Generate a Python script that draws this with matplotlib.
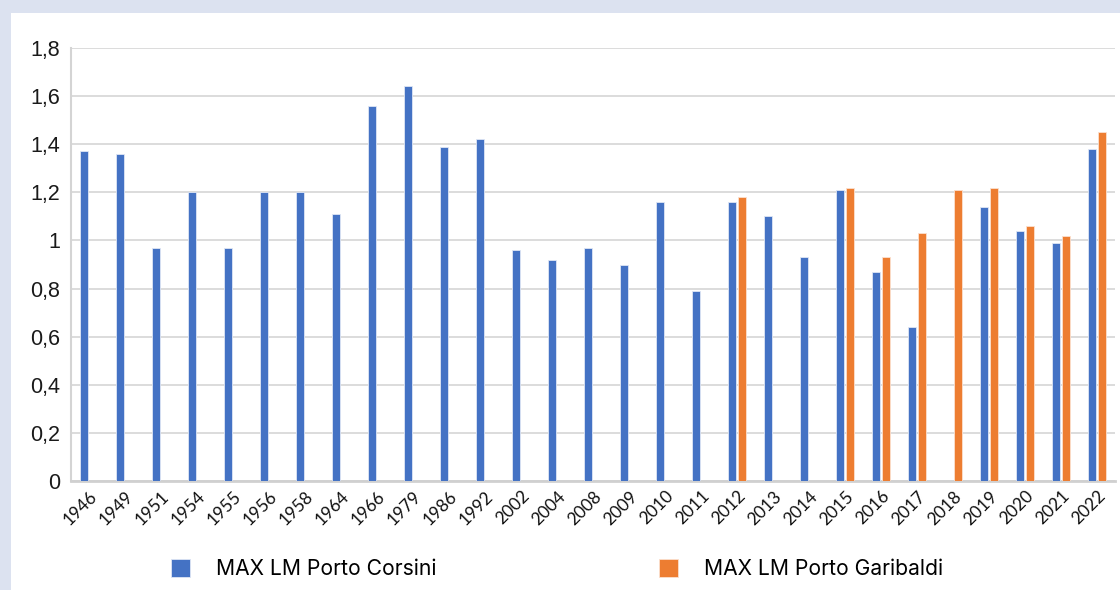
import numpy as np
import matplotlib.pyplot as plt
import matplotlib.transforms as mtransforms
from matplotlib.patches import Rectangle

years = ['1946', '1949', '1951', '1954', '1955', '1956', '1958', '1964', '1966', '1979',
         '1986', '1992', '2002', '2004', '2008', '2009', '2010', '2011', '2012', '2013',
         '2014', '2015', '2016', '2017', '2018', '2019', '2020', '2021', '2022']
corsini = [1.37, 1.36, 0.97, 1.20, 0.97, 1.20, 1.20, 1.11, 1.56, 1.64,
           1.39, 1.42, 0.96, 0.92, 0.97, 0.90, 1.16, 0.79, 1.16, 1.10,
           0.93, 1.21, 0.87, 0.64, None, 1.14, 1.04, 0.99, 1.38]
garibaldi = [None] * 18 + [1.18, None, None, 1.22, 0.93, 1.03, 1.21, 1.22, 1.06, 1.02, 1.45]
y_ticks = [0, 0.2, 0.4, 0.6, 0.8, 1.0, 1.2, 1.4, 1.6, 1.8]
y_labels = ['0', '0,2', '0,4', '0,6', '0,8', '1', '1,2', '1,4', '1,6', '1,8']

blue = '#4472C4'
orange = '#ED7D31'

fig = plt.figure(figsize=(11.2, 5.9), dpi=100)
fig.patch.set_facecolor('#dce2f0')
# white card behind the chart
fig.patches.append(Rectangle((11 / 1120, 0), 1.0, 1 - 13 / 590, transform=fig.transFigure,
                             facecolor='white', edgecolor='none', zorder=-5))

ax = fig.add_axes([71 / 1120, 1 - 481 / 590, 1044 / 1120, 433 / 590])
ax.set_zorder(2)
ax.set_facecolor('white')

x = np.arange(len(years))
c_idx = [i for i, v in enumerate(corsini) if v is not None]
g_idx = [i for i, v in enumerate(garibaldi) if v is not None]
ax.bar(x[c_idx] - 0.14, [corsini[i] for i in c_idx], width=0.23, color=blue,
       edgecolor='#dfe6f5', linewidth=0.6, label='MAX LM Porto Corsini', zorder=3)
ax.bar(x[g_idx] + 0.14, [garibaldi[i] for i in g_idx], width=0.23, color=orange,
       edgecolor='#fbe0cf', linewidth=0.6, label='MAX LM Porto Garibaldi', zorder=3)

ax.set_xlim(-0.5, len(years) - 0.5)
ax.set_ylim(0, 1.8)
ax.set_yticks(y_ticks)
ax.set_yticklabels(y_labels, fontfamily='Liberation Sans', fontsize=15.5, color='#1a1a1a')
ax.set_xticks(x)
ax.set_xticklabels(years, rotation=45, ha='right', rotation_mode='anchor',
                   fontfamily='Lato', fontsize=12.5, color='#111111')
# nudge the rotated year labels a little to the left
shift = mtransforms.ScaledTranslation(-0.06, 0, fig.dpi_scale_trans)
for lbl in ax.get_xticklabels():
    lbl.set_transform(lbl.get_transform() + shift)
ax.tick_params(axis='both', length=0)
ax.tick_params(axis='y', pad=8)
ax.tick_params(axis='x', pad=5)

ax.grid(axis='y', color='#d9d9d9', linewidth=1.3, zorder=0)
ax.set_axisbelow(True)
for side in ['top', 'right']:
    ax.spines[side].set_visible(False)
ax.spines['left'].set_color('#d4d4d4')
ax.spines['left'].set_linewidth(1.5)
ax.spines['bottom'].set_color('#d0d0d0')
ax.spines['bottom'].set_linewidth(2)

fig.legend(loc='center left', bbox_to_anchor=(171 / 1120, 1 - 569 / 590), ncol=2,
           frameon=False, borderpad=0, borderaxespad=0,
           handlelength=0.9, handleheight=0.9, handletextpad=1.25, columnspacing=10.5,
           prop={'family': 'Inter', 'size': 15.2})

fig.savefig('out.png', dpi=100, facecolor=fig.get_facecolor())
